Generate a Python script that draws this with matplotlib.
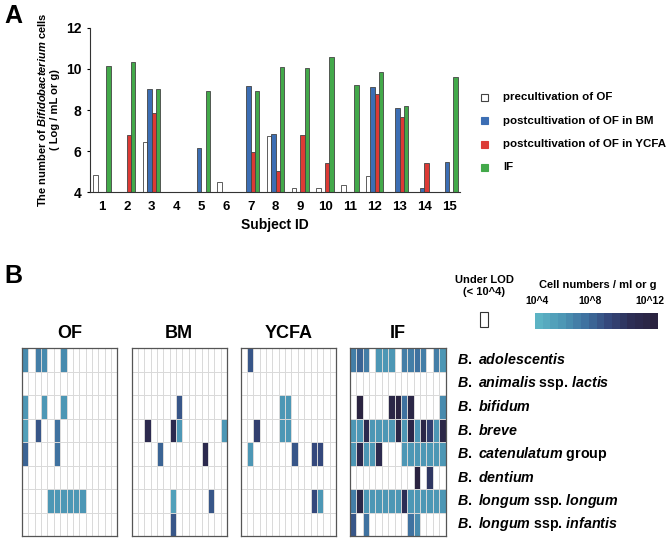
import numpy as np
import matplotlib
matplotlib.use("Agg")
import matplotlib.pyplot as plt
from matplotlib.patches import Rectangle
from matplotlib.colors import LinearSegmentedColormap, ListedColormap, BoundaryNorm

plt.rcParams['font.family'] = ['Liberation Sans', 'DejaVu Sans']
plt.rcParams['font.weight'] = 'bold'
plt.rcParams['mathtext.fontset'] = 'custom'
plt.rcParams['mathtext.rm'] = 'Liberation Sans:bold'
plt.rcParams['mathtext.it'] = 'Liberation Sans:italic:bold'
plt.rcParams['mathtext.bf'] = 'Liberation Sans:bold'

# ---------------- Data: panel A ----------------
subjects = list(range(1, 16))
nan = np.nan
pre_OF = [4.85, nan, 6.43, nan, nan, 4.49, nan, 6.73, 4.19, 4.19, 4.35, 4.78, nan, nan, nan]
post_BM = [nan, nan, 9.0, nan, 6.17, nan, 9.15, 6.83, nan, nan, nan, 9.1, 8.09, 4.22, 5.47]
post_YCFA = [nan, 6.8, 7.85, nan, nan, nan, 5.94, 5.05, 6.78, 5.42, nan, 8.79, 7.64, 5.42, nan]
IF_vals = [10.13, 10.35, 9.0, nan, 8.93, nan, 8.93, 10.1, 10.03, 10.57, 9.2, 9.85, 8.19, nan, 9.61]
series_labels = ['precultivation of OF', 'postcultivation of OF in BM',
                 'postcultivation of OF in YCFA', 'IF']
series_colors = ['white', '#3c6eb4', '#dc3a35', '#43a94a']

# ---------------- Data: panel B ----------------
species = [r'$\mathit{B.\ adolescentis}$',
           r'$\mathit{B.\ animalis}$ ssp. $\mathit{lactis}$',
           r'$\mathit{B.\ bifidum}$',
           r'$\mathit{B.\ breve}$',
           r'$\mathit{B.\ catenulatum}$ group',
           r'$\mathit{B.\ dentium}$',
           r'$\mathit{B.\ longum}$ ssp. $\mathit{longum}$',
           r'$\mathit{B.\ longum}$ ssp. $\mathit{infantis}$']
panel_names = ['OF', 'BM', 'YCFA', 'IF']

# log10 cell numbers per species (rows) x subject (cols); nan = under LOD
OF_map = [
    [6.3, nan, 6.5, 6.3, nan, nan, 6.3, nan, nan, nan, nan, nan, nan, nan, nan],
    [nan]*15,
    [5.6, nan, nan, 5.6, nan, nan, 5.6, nan, nan, nan, nan, nan, nan, nan, nan],
    [5.2, nan, 8.0, nan, nan, 7.2, nan, nan, nan, nan, nan, nan, nan, nan, nan],
    [7.5, nan, nan, nan, nan, 7.0, nan, nan, nan, nan, nan, nan, nan, nan, nan],
    [nan]*15,
    [nan, nan, nan, nan, 5.6, 5.6, 5.6, 5.6, 5.6, 5.6, nan, nan, nan, nan, nan],
    [nan]*15,
]
BM_map = [
    [nan]*15,
    [nan]*15,
    [nan, nan, nan, nan, nan, nan, nan, 8.0, nan, nan, nan, nan, nan, nan, nan],
    [nan, nan, 10.5, nan, nan, nan, 10.5, 5.5, nan, nan, nan, nan, nan, nan, 5.5],
    [nan, nan, nan, nan, 7.5, nan, nan, nan, nan, nan, nan, 10.5, nan, nan, nan],
    [nan]*15,
    [nan, nan, nan, nan, nan, nan, 5.2, nan, nan, nan, nan, nan, 8.2, nan, nan],
    [nan, nan, nan, nan, nan, nan, 8.0, nan, nan, nan, nan, nan, nan, nan, nan],
]
YCFA_map = [
    [nan, 8.0, nan, nan, nan, nan, nan, nan, nan, nan, nan, nan, nan, nan, nan],
    [nan]*15,
    [nan, nan, nan, nan, nan, nan, 5.5, 5.5, nan, nan, nan, nan, nan, nan, nan],
    [nan, nan, 9.0, nan, nan, nan, 5.5, 5.5, nan, nan, nan, nan, nan, nan, nan],
    [nan, 5.5, nan, nan, nan, nan, nan, nan, 8.0, nan, nan, 8.6, 8.6, nan, nan],
    [nan]*15,
    [nan, nan, nan, nan, nan, nan, nan, nan, nan, nan, nan, 8.6, 5.5, nan, nan],
    [nan]*15,
]
IF_map = [
    [6.6, 7.5, 6.6, nan, 5.5, 5.5, 5.5, nan, 6.6, 6.6, 7.0, 6.6, nan, 6.6, 5.6],
    [nan]*15,
    [nan, 11.5, nan, nan, nan, nan, 11.0, 11.5, 7.0, 11.0, nan, nan, nan, nan, 6.2],
    [5.5, 5.5, 10.5, 5.5, 5.5, 5.5, 5.5, 11.0, 5.5, 11.0, 5.5, 11.0, 9.0, 5.5, 11.0],
    [5.5, 10.5, 5.5, 5.5, 10.5, nan, nan, nan, 5.5, 5.8, 5.8, 5.8, 5.8, 5.8, 5.8],
    [nan, nan, nan, nan, nan, nan, nan, nan, nan, nan, 11.5, nan, 9.5, nan, nan],
    [6.5, 11.0, 5.8, 5.8, 5.8, 5.8, 5.8, 5.8, 10.0, 5.8, 5.8, 5.8, 5.8, 5.8, 5.8],
    [8.0, nan, 7.0, nan, nan, nan, nan, nan, nan, 7.0, 6.2, nan, nan, nan, nan],
]
maps = [OF_map, BM_map, YCFA_map, IF_map]
cbar_ticks = [4, 8, 12]
cbar_ticklabels = ['10^4', '10^8', '10^12']

# ---------------- Figure ----------------
W, H = 669, 538
fig = plt.figure(figsize=(W / 100, H / 100), dpi=100)

def fx(px):
    return px / W

def fy(py):
    return 1 - py / H

# Panel A
axA = fig.add_axes([fx(90), fy(192.3), fx(460 - 90), (192.3 - 27.7) / H])
x = np.array(subjects, dtype=float)
w = 0.175
offsets = [-1.5 * w, -0.5 * w, 0.5 * w, 1.5 * w]
for vals, col, off in zip([pre_OF, post_BM, post_YCFA, IF_vals], series_colors, offsets):
    v = np.array(vals, dtype=float)
    axA.bar(x + off, v - 4, bottom=4, width=w, color=col, edgecolor='#444444', linewidth=0.6)
axA.set_ylim(4, 12)
axA.set_xlim(0.516, 15.44)
axA.set_yticks([4, 6, 8, 10, 12])
axA.set_xticks(subjects)
axA.tick_params(axis='x', length=0, pad=6, labelsize=9.5)
axA.tick_params(axis='y', length=2, pad=4, labelsize=10)
for lab in axA.get_xticklabels() + axA.get_yticklabels():
    lab.set_fontweight('bold')
axA.spines['top'].set_visible(False)
axA.spines['right'].set_visible(False)
axA.spines['left'].set_color('#333333')
axA.spines['bottom'].set_color('#333333')
axA.set_xlabel('Subject ID', fontsize=10, fontweight='bold', labelpad=4)
fig.text(fx(48), fy(110), 'The number of $\\mathit{Bifidobacterium}$ cells\n( Log / mL or g)',
         rotation=90, ha='center', va='center', fontsize=8, fontweight='bold',
         multialignment='center', linespacing=1.3)
fig.text(fx(4), fy(16), 'A', fontsize=18, fontweight='bold', va='center', ha='left')

# Legend for A
leg_y = [97, 120.5, 144, 167]
for yy, lab, col in zip(leg_y, series_labels, series_colors):
    fig.patches.append(Rectangle((fx(481), fy(yy + 3.5)), fx(7), 7 / H, transform=fig.transFigure,
                                 facecolor=col, edgecolor='#444444' if col == 'white' else col,
                                 linewidth=0.8))
    fig.text(fx(503), fy(yy), lab, fontsize=8.25, fontweight='bold', va='center', ha='left')

# Panel B
fig.text(fx(4), fy(276), 'B', fontsize=18, fontweight='bold', va='center', ha='left')

base = ['#5cb3c4', '#4d97b5', '#3f72a0', '#34487c', '#2d2e55', '#2a2340']
smooth = LinearSegmentedColormap.from_list('cells', base)
ncol = 16
cmap = ListedColormap([smooth(i / (ncol - 1)) for i in range(ncol)])
bounds = np.linspace(4, 12, ncol + 1)
norm = BoundaryNorm(bounds, cmap.N)

panel_left = [22, 131.5, 240.5, 350]
pw = 95.5
top_px, bot_px = 348, 536
for name, data, lx in zip(panel_names, maps, panel_left):
    ax = fig.add_axes([fx(lx), fy(bot_px), fx(pw), (bot_px - top_px) / H])
    arr = np.ma.masked_invalid(np.array(data, dtype=float))
    ax.pcolormesh(np.arange(16), np.arange(9), arr, cmap=cmap, norm=norm)
    for k in range(1, 15):
        ax.axvline(k, color='#d9d9d9', lw=0.7)
    for k in range(1, 8):
        ax.axhline(k, color='#d9d9d9', lw=0.7)
    ax.set_xlim(0, 15)
    ax.set_ylim(8, 0)
    ax.set_xticks([])
    ax.set_yticks([])
    for sp in ax.spines.values():
        sp.set_color('#555555')
        sp.set_linewidth(0.9)
    ax.set_title(name, fontsize=13, fontweight='bold', pad=7)

row_h = (bot_px - top_px) / 8
for i, sp_lab in enumerate(species):
    fig.text(fx(457), fy(top_px + row_h * (i + 0.5)), sp_lab, fontsize=10.3,
             fontweight='bold', va='center', ha='left')

# Legend for B
fig.text(fx(484), fy(286), 'Under LOD\n(< 10^4)', fontsize=8, fontweight='bold',
         ha='center', va='center', multialignment='center', linespacing=1.25)
fig.patches.append(Rectangle((fx(479.5), fy(327)), fx(8), 15 / H, transform=fig.transFigure,
                             facecolor='white', edgecolor='#333333', linewidth=0.8))
fig.text(fx(598), fy(285), 'Cell numbers / ml or g', fontsize=8, fontweight='bold',
         ha='center', va='center')
cax = fig.add_axes([fx(535), fy(329), fx(658 - 535), 16 / H])
cb = fig.colorbar(plt.cm.ScalarMappable(norm=norm, cmap=cmap), cax=cax, orientation='horizontal')
cb.outline.set_visible(False)
cb.minorticks_off()
cax.set_xticks([])
cax.tick_params(which='both', length=0, labelbottom=False)
label_x = [537, 590, 650]
for lab, xx in zip(cbar_ticklabels, label_x):
    fig.text(fx(xx), fy(301), lab, fontsize=7.5, fontweight='bold', ha='center', va='center')

fig.savefig('out.png', dpi=100)
